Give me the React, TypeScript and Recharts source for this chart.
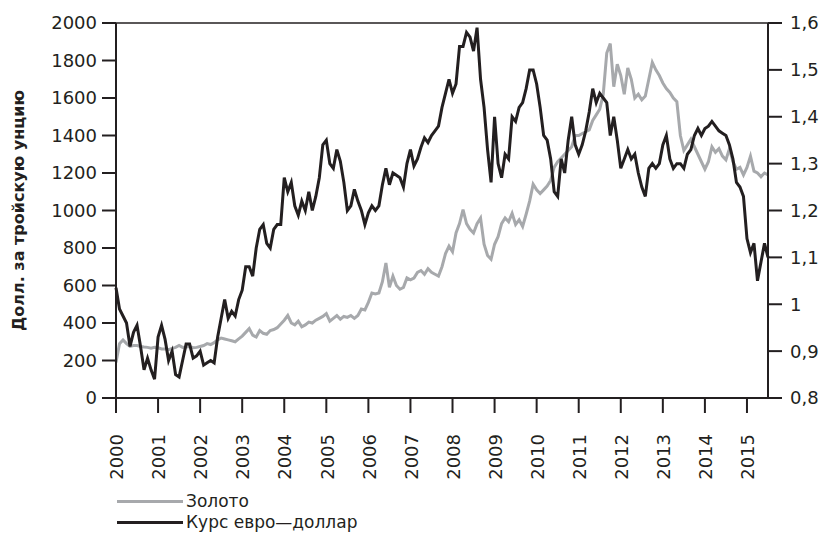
import React from "react";
import { LineChart, Line, XAxis, YAxis, ReferenceLine } from "recharts";

const START_YEAR = 2000;

const years = [
  2000, 2001, 2002, 2003, 2004, 2005, 2006, 2007, 2008, 2009, 2010, 2011, 2012,
  2013, 2014, 2015,
];

const goldTicks = [0, 200, 400, 600, 800, 1000, 1200, 1400, 1600, 1800, 2000];
const rateTicks = [0.8, 0.9, 1, 1.1, 1.2, 1.3, 1.4, 1.5, 1.6];

// gold, USD per troy ounce, monthly from Jan 2000
const gold = [
  190, 290, 310, 290, 275, 280, 280, 275, 272, 270, 265, 270,
  268, 262, 262, 258, 265, 270, 280, 270, 272, 275, 268, 270,
  275, 280, 290, 285, 295, 310, 320, 315, 310, 305, 300, 315,
  330, 350, 370, 335, 325, 360, 345, 340, 360, 365, 375, 395,
  415, 440, 400, 390, 410, 380, 390, 405, 400, 415, 425, 435,
  450, 410, 425, 440, 420, 435, 430, 440, 425, 440, 475, 470,
  510, 560, 555, 560, 620, 720, 590, 650, 600, 580, 590, 640,
  630, 640, 670, 680, 660, 690, 670, 660, 650, 700, 770, 810,
  780, 880, 930, 1005, 930, 900, 880, 930, 960, 820, 760, 740,
  820, 860, 930, 960, 940, 985, 925, 950, 915, 980, 1050, 1140,
  1110, 1090, 1110, 1130, 1160, 1230, 1260, 1280, 1300, 1320, 1340, 1400,
  1400, 1410, 1420, 1430, 1480, 1510, 1540, 1620, 1840, 1890, 1660, 1780,
  1720, 1620, 1760, 1700, 1600, 1620, 1590, 1610, 1700, 1790, 1750, 1720,
  1680, 1650, 1630, 1600, 1580, 1400, 1320, 1350, 1380, 1340, 1300, 1260,
  1220, 1260, 1340, 1310, 1330, 1290, 1270, 1330, 1260, 1220, 1230, 1190,
  1230, 1290, 1210, 1200, 1180, 1200, 1190,
];

// EUR/USD, monthly from Jan 2000
const eurUsd = [
  1.035, 0.99, 0.975, 0.96, 0.91, 0.94, 0.955, 0.91, 0.86, 0.885, 0.86, 0.84,
  0.93, 0.955, 0.925, 0.88, 0.9, 0.85, 0.845, 0.88, 0.915, 0.915, 0.885, 0.89,
  0.9, 0.87, 0.875, 0.88, 0.875, 0.93, 0.97, 1.01, 0.97, 0.985, 0.975, 1.01,
  1.03, 1.08, 1.08, 1.06, 1.12, 1.16, 1.17, 1.13, 1.12, 1.16, 1.17, 1.17,
  1.27, 1.24, 1.26, 1.21, 1.19, 1.22, 1.2, 1.24, 1.2, 1.23, 1.27, 1.34,
  1.35, 1.3, 1.29, 1.33, 1.305, 1.26, 1.2, 1.21, 1.245, 1.22, 1.2, 1.17,
  1.195, 1.21, 1.2, 1.21, 1.255, 1.29, 1.255, 1.28, 1.275, 1.27, 1.25, 1.3,
  1.33, 1.295, 1.31, 1.335, 1.355, 1.345, 1.36, 1.37, 1.38, 1.42, 1.45, 1.48,
  1.45, 1.47, 1.55, 1.55, 1.58, 1.57, 1.54, 1.59, 1.48, 1.42, 1.33, 1.26,
  1.4, 1.3, 1.27, 1.32, 1.31, 1.4, 1.39, 1.42, 1.43, 1.46, 1.5, 1.5,
  1.47, 1.42, 1.36, 1.35, 1.31, 1.24, 1.23, 1.31, 1.28, 1.35, 1.4, 1.34,
  1.32, 1.34, 1.37, 1.41, 1.46, 1.43, 1.45, 1.44, 1.43, 1.36, 1.4, 1.35,
  1.29, 1.31, 1.33, 1.31, 1.32, 1.28, 1.25, 1.23, 1.29, 1.3, 1.29, 1.3,
  1.34, 1.36, 1.31, 1.29, 1.3, 1.3, 1.29, 1.32, 1.33, 1.36, 1.375, 1.36,
  1.375, 1.38, 1.39, 1.38, 1.37, 1.365, 1.36, 1.34, 1.31, 1.26, 1.25, 1.23,
  1.14, 1.11, 1.13, 1.05, 1.09, 1.13, 1.1,
];

const data = gold.map((g, i) => ({
  t: START_YEAR + i / 12,
  gold: g,
  eur: eurUsd[i],
}));

const INK = "#231f20";
const GREY = "#a7a9ac";
const FONT = "'DejaVu Sans', sans-serif";

// year labels, rotated to read bottom-up
const YearTick = (props: any) => {
  const { x, y, payload } = props;
  return (
    <text
      transform={`translate(${x},${y + 12}) rotate(-90)`}
      textAnchor="end"
      dy="0.4em"
      fill={INK}
      fontSize={18}
      fontFamily={FONT}
    >
      {payload.value}
    </text>
  );
};

const fmtRate = (v: number) => String(Number(v.toFixed(1))).replace(".", ",");

export default function App() {
  return (
    <div style={{ position: "relative", width: 824, height: 533, background: "#fff" }}>
      <style>{"body{margin:0}"}</style>
      <LineChart
        width={824}
        height={533}
        data={data}
        margin={{ top: 23, right: 0, bottom: 60, left: 0 }}
      >
        <XAxis
          dataKey="t"
          type="number"
          domain={[2000, 2015.5]}
          ticks={years}
          interval={0}
          height={75}
          tickSize={15}
          tickMargin={9}
          tick={<YearTick />}
          axisLine={{ stroke: INK, strokeWidth: 2 }}
          tickLine={{ stroke: INK, strokeWidth: 2 }}
        />
        <YAxis
          yAxisId="left"
          domain={[0, 2000]}
          ticks={goldTicks}
          interval={0}
          width={116}
          tickSize={14}
          tickMargin={5}
          tick={{ fill: INK, fontSize: 18, fontFamily: FONT }}
          axisLine={{ stroke: INK, strokeWidth: 2 }}
          tickLine={{ stroke: INK, strokeWidth: 2 }}
          label={{
            value: "Долл. за тройскую унцию",
            angle: -90,
            position: "insideLeft",
            offset: 18,
            style: {
              textAnchor: "middle",
              fill: INK,
              fontSize: 16,
              fontWeight: "bold",
              fontFamily: FONT,
            },
          }}
        />
        <YAxis
          yAxisId="right"
          orientation="right"
          domain={[0.8, 1.6]}
          ticks={rateTicks}
          interval={0}
          width={56}
          tickSize={14}
          tickMargin={8}
          tickFormatter={fmtRate}
          tick={{ fill: INK, fontSize: 18, fontFamily: FONT }}
          axisLine={{ stroke: INK, strokeWidth: 2 }}
          tickLine={{ stroke: INK, strokeWidth: 2 }}
        />
        <ReferenceLine yAxisId="left" y={2000} stroke={INK} strokeWidth={1.5} />
        <Line
          yAxisId="left"
          dataKey="gold"
          type="linear"
          stroke={GREY}
          strokeWidth={3}
          dot={false}
          isAnimationActive={false}
        />
        <Line
          yAxisId="right"
          dataKey="eur"
          type="linear"
          stroke={INK}
          strokeWidth={3}
          dot={false}
          isAnimationActive={false}
        />
      </LineChart>
      <div
        style={{
          position: "absolute",
          left: 117,
          top: 491,
          fontFamily: FONT,
          fontSize: 17,
          color: INK,
          lineHeight: "21px",
        }}
      >
        <div style={{ display: "flex", alignItems: "center" }}>
          <span style={{ width: 66, height: 3, background: GREY, marginRight: 3 }} />
          <span>Золото</span>
        </div>
        <div style={{ display: "flex", alignItems: "center" }}>
          <span style={{ width: 66, height: 3, background: INK, marginRight: 3 }} />
          <span>Курс евро—доллар</span>
        </div>
      </div>
    </div>
  );
}
